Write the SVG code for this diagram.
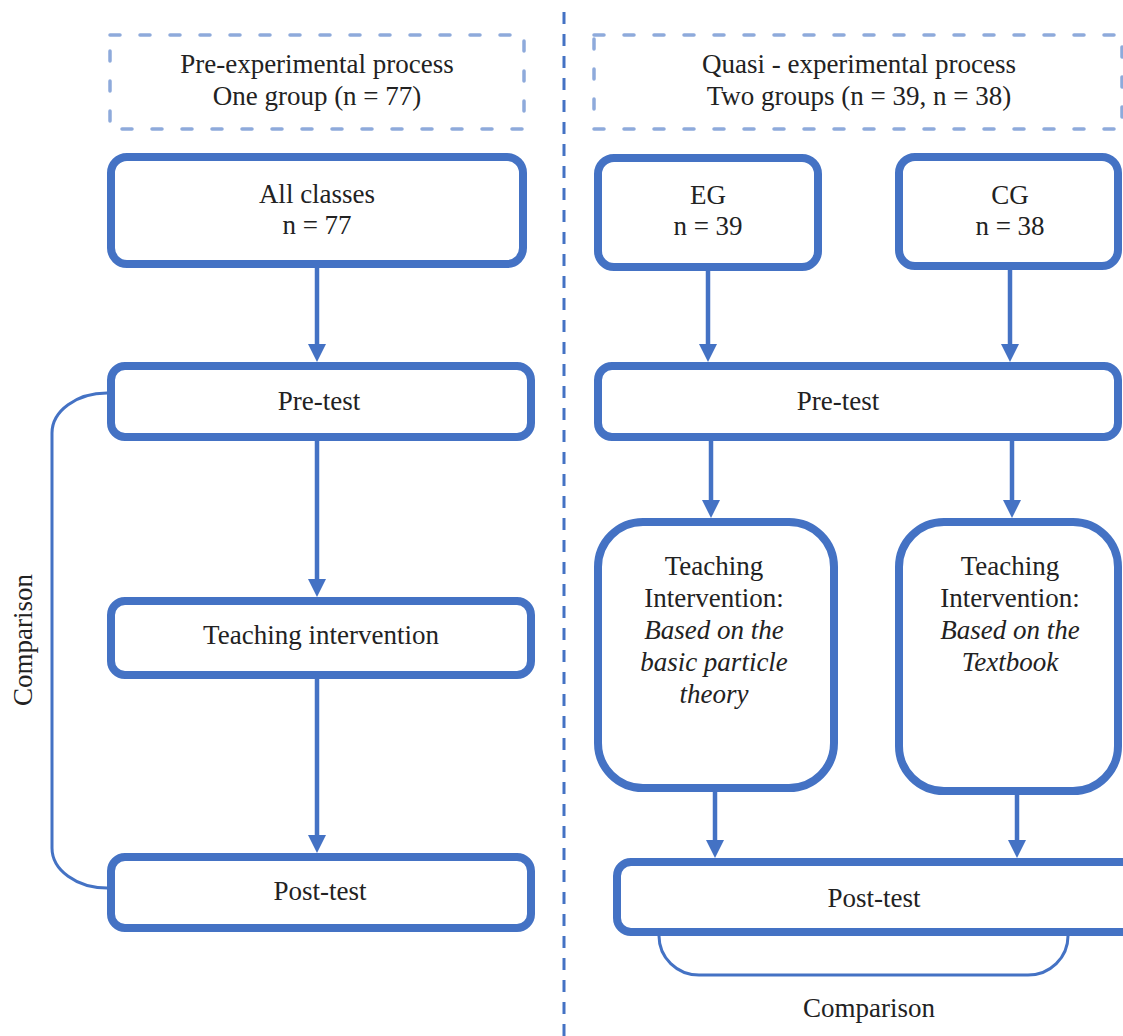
<svg xmlns="http://www.w3.org/2000/svg" width="1123" height="1036" viewBox="0 0 1123 1036">
  <style>
    .node { fill: #ffffff; stroke: #4472c4; stroke-width: 8; }
    .frame { fill: none; stroke: #8eaadb; stroke-width: 3.5; stroke-dasharray: 10 20; stroke-linecap: round; }
    .arrow { fill: none; stroke: #4472c4; stroke-width: 4.5; marker-end: url(#ah); }
    .bracket { fill: none; stroke: #4472c4; stroke-width: 3; }
    .divider { fill: none; stroke: #4472c4; stroke-width: 3; stroke-dasharray: 12 10; }
    text { font-family: "Liberation Serif", "Times New Roman", serif; font-size: 27px; fill: #222222; text-anchor: middle; }
    .it { font-style: italic; }
  </style>
  <defs>
    <marker id="ah" viewBox="0 0 18 18" refX="10" refY="9" markerWidth="18" markerHeight="18" markerUnits="userSpaceOnUse" orient="auto">
      <path d="M0,0 L18,9 L0,18 z" fill="#4472c4"/>
    </marker>
  </defs>

  <rect width="1123" height="1036" fill="#ffffff"/>

  <line class="divider" x1="564" y1="12" x2="564" y2="1036"/>

  <g id="connectors">
    <line class="arrow" x1="317" y1="266" x2="317" y2="354"/>
    <line class="arrow" x1="317" y1="441" x2="317" y2="589"/>
    <line class="arrow" x1="317" y1="679" x2="317" y2="845"/>
    <line class="arrow" x1="708" y1="271" x2="708" y2="354"/>
    <line class="arrow" x1="1010" y1="270" x2="1010" y2="354"/>
    <line class="arrow" x1="711" y1="441" x2="711" y2="510"/>
    <line class="arrow" x1="1012" y1="441" x2="1012" y2="510"/>
    <line class="arrow" x1="715" y1="792" x2="715" y2="850"/>
    <line class="arrow" x1="1017" y1="795" x2="1017" y2="850"/>
    <path class="bracket" d="M107,393 A55,40 0 0 0 52,433 L52,848 A55,40 0 0 0 107,888"/>
    <path class="bracket" d="M659,936 A40,39 0 0 0 699,975 L1028,975 A40,39 0 0 0 1068,936"/>
  </g>

  <g id="frame-pre">
    <rect class="frame" x="110" y="35" width="414" height="94"/>
    <text x="317" y="73">Pre-experimental process</text>
    <text x="317" y="105">One group (n = 77)</text>
  </g>
  <g id="frame-quasi">
    <rect class="frame" x="594" y="35" width="528" height="94"/>
    <text x="859" y="73">Quasi - experimental process</text>
    <text x="859" y="105">Two groups (n = 39, n = 38)</text>
  </g>

  <g id="all-classes">
    <rect class="node" x="111" y="157" width="412" height="107" rx="16"/>
    <text x="317" y="203">All classes</text>
    <text x="317" y="234">n = 77</text>
  </g>
  <g id="pretest-left">
    <rect class="node" x="111" y="366" width="420" height="71" rx="14"/>
    <text x="319" y="410">Pre-test</text>
  </g>
  <g id="teaching-left">
    <rect class="node" x="111" y="601" width="420" height="74" rx="14"/>
    <text x="321" y="644">Teaching intervention</text>
  </g>
  <g id="posttest-left">
    <rect class="node" x="111" y="857" width="420" height="71" rx="14"/>
    <text x="320" y="900">Post-test</text>
  </g>

  <g id="eg">
    <rect class="node" x="598" y="158" width="220" height="109" rx="16"/>
    <text x="708" y="204">EG</text>
    <text x="708" y="235">n = 39</text>
  </g>
  <g id="cg">
    <rect class="node" x="899" y="157" width="219" height="109" rx="16"/>
    <text x="1010" y="204">CG</text>
    <text x="1010" y="235">n = 38</text>
  </g>
  <g id="pretest-right">
    <rect class="node" x="598" y="366" width="520" height="71" rx="14"/>
    <text x="838" y="410">Pre-test</text>
  </g>
  <g id="teaching-eg">
    <rect class="node" x="598" y="522" width="236" height="266" rx="45"/>
    <text x="714" y="575">Teaching</text>
    <text x="714" y="607">Intervention:</text>
    <text class="it" x="714" y="639">Based on the</text>
    <text class="it" x="714" y="671">basic particle</text>
    <text class="it" x="714" y="703">theory</text>
  </g>
  <g id="teaching-cg">
    <rect class="node" x="899" y="522" width="219" height="269" rx="45"/>
    <text x="1010" y="575">Teaching</text>
    <text x="1010" y="607">Intervention:</text>
    <text class="it" x="1010" y="639">Based on the</text>
    <text class="it" x="1010" y="671">Textbook</text>
  </g>
  <g id="posttest-right">
    <rect class="node" x="617" y="862" width="540" height="70" rx="14"/>
    <text x="874" y="907">Post-test</text>
  </g>

  <g id="labels">
    <text transform="translate(32,640) rotate(-90)" x="0" y="0">Comparison</text>
    <text x="869" y="1017">Comparison</text>
  </g>
</svg>
